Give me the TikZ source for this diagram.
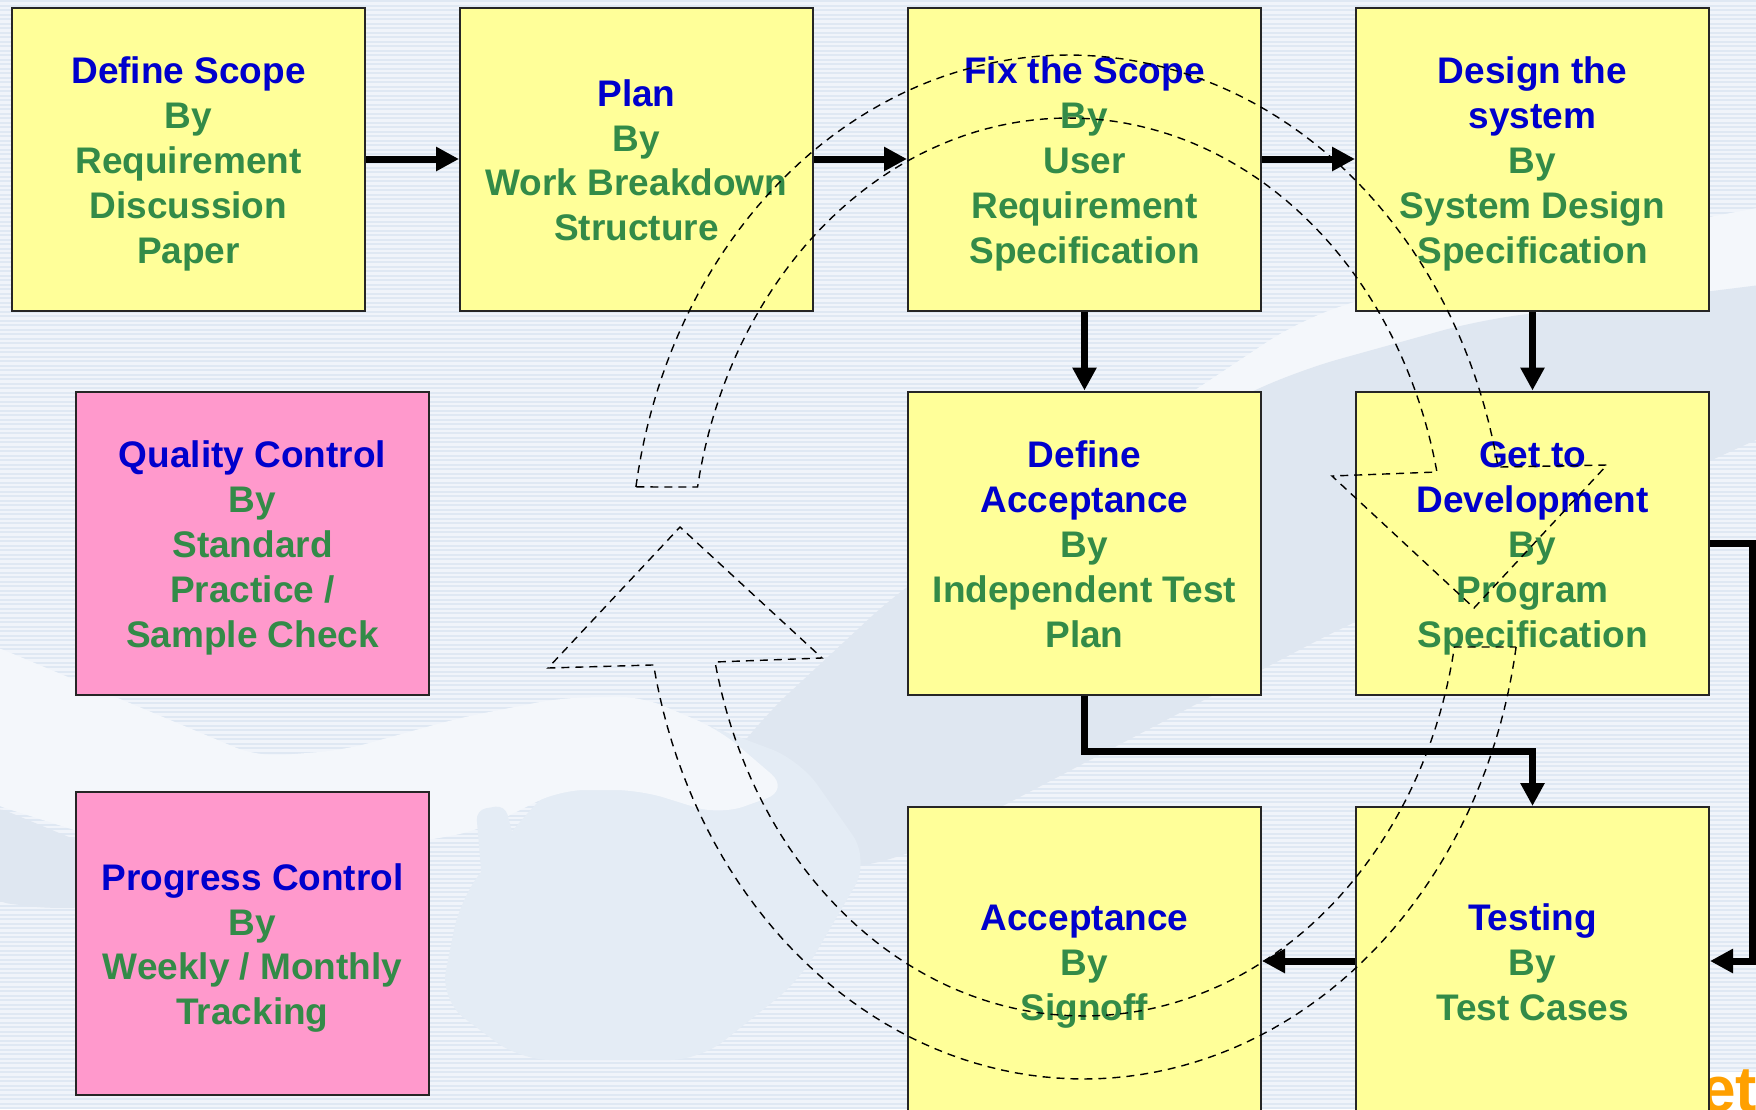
\documentclass[tikz,border=0pt]{standalone}
\usepackage{fontspec}
\setmainfont{Liberation Sans}
\usetikzlibrary{arrows.meta}
\definecolor{boxyellow}{HTML}{FFFF99}
\definecolor{boxpink}{HTML}{FF99CC}
\definecolor{titleblue}{HTML}{0000CC}
\definecolor{textgreen}{RGB}{51,139,72}
\definecolor{bgbase}{HTML}{F0F4FA}
\definecolor{bgstripe}{HTML}{DFE8F3}
\definecolor{wmdark}{HTML}{DFE7F1}
\definecolor{wmmid}{HTML}{E4ECF5}
\definecolor{wmlight}{HTML}{F4F7FB}
\definecolor{logoorange}{RGB}{255,160,0}
\newcommand\myTopStrut{\rule{0pt}{38pt}}
\newcommand\myBotStrut{\rule[-9pt]{0pt}{9pt}}
\begin{document}
\begin{tikzpicture}[x=1pt,y=-1pt,
  box/.style={draw=black!85, line width=2pt, fill=boxyellow, minimum width=353pt,
    minimum height=303pt, inner sep=0pt, align=center,
    font=\fontsize{37}{44.8}\selectfont\bfseries, text=textgreen},
  pinkbox/.style={box, fill=boxpink},
  tallbox/.style={box, minimum height=308pt},
  conn/.style={line width=7pt, -{Triangle[length=23pt,width=23pt]}, line join=miter},
  dasharrow/.style={black, line width=1.4pt, dash pattern=on 8pt off 6pt, line join=miter}
]
\useasboundingbox (0,0) rectangle (1756,1109);
\clip (0,0) rectangle (1756,1109);
% background stripes
\fill[bgbase] (0,0) rectangle (1756,1109);
\foreach \i in {0,...,246} {\fill[bgstripe] (0,{\i*4.5}) rectangle (1756,{\i*4.5+2});}
% watermark (handshake)
\fill[wmlight, rounded corners=40pt] (1800,200) -- (1480,260) -- (1300,320) -- (1150,420) -- (1300,380) -- (1500,330) -- (1800,300) -- cycle;
\fill[wmdark, rounded corners=40pt] (1800,280) -- (1480,320) -- (1300,370) -- (1100,460) -- (900,590) -- (760,720) -- (700,800) -- (760,880) -- (900,860) -- (1341,628) -- (1800,420) -- cycle;
\fill[wmmid, rounded corners=30pt] (640,700) -- (800,760) -- (870,860) -- (800,980) -- (700,1060) -- (520,1060) -- (440,1000) -- (460,900) -- (520,820) -- cycle;
\fill[wmlight, rounded corners=25pt] (-20,640) -- (258,757) -- (344,750) -- (459,718) -- (560,698) -- (640,696) -- (720,730) -- (790,790) -- (720,815) -- (640,790) -- (560,790) -- (480,830) -- (430,840) -- (200,870) -- (-20,800) -- cycle;
\fill[wmmid, rounded corners=10pt] (476,810) -- (505,805) -- (530,900) -- (520,975) -- (490,975) -- cycle;
\fill[wmmid, rounded corners=12pt] (534,825) -- (580,815) -- (626,900) -- (615,946) -- (580,946) -- cycle;
\fill[wmdark, rounded corners=30pt] (-20,800) -- (100,850) -- (150,900) -- (60,910) -- (-20,900) -- cycle;
% partial logo text at bottom right
\fill[white] (1709,1072) rectangle (1756,1109);
\node[anchor=base west, inner sep=0pt, text=logoorange, font=\fontsize{64}{64}\selectfont\bfseries] (logo) at (1700,1111) {et};
% boxes
\node[box] (b1) at (188.5,159) {\myTopStrut\textcolor{titleblue}{Define Scope}\\By\\Requirement\\Discussion\\Paper\myBotStrut};
\node[box] (b2) at (636.5,159) {\myTopStrut\textcolor{titleblue}{Plan}\\By\\Work Breakdown\\Structure\myBotStrut};
\node[box] (b3) at (1084.5,159) {\myTopStrut\textcolor{titleblue}{Fix the Scope}\\By\\User\\Requirement\\Specification\myBotStrut};
\node[box] (b4) at (1532.5,159) {\myTopStrut\textcolor{titleblue}{Design the}\\\textcolor{titleblue}{system}\\By\\System Design\\Specification\myBotStrut};
\node[pinkbox] (qc) at (252.5,543) {\myTopStrut\textcolor{titleblue}{Quality Control}\\By\\Standard\\Practice /\\Sample Check\myBotStrut};
\node[box] (da) at (1084.5,543) {\myTopStrut\textcolor{titleblue}{Define}\\\textcolor{titleblue}{Acceptance}\\By\\Independent Test\\Plan\myBotStrut};
\node[box] (gd) at (1532.5,543) {\myTopStrut\textcolor{titleblue}{Get to}\\\textcolor{titleblue}{Development}\\By\\Program\\Specification\myBotStrut};
\node[pinkbox] (pc) at (252.5,943) {\myTopStrut\textcolor{titleblue}{Progress Control}\\By\\Weekly / Monthly\\Tracking\myBotStrut};
\node[tallbox] (ac) at (1084.5,961) {\myTopStrut\textcolor{titleblue}{Acceptance}\\By\\Signoff\myBotStrut};
\node[tallbox] (te) at (1532.5,961) {\myTopStrut\textcolor{titleblue}{Testing}\\By\\Test Cases\myBotStrut};
% connectors
\coordinate (j1) at (1084.5,751);
\coordinate (j2) at (1752,543);
\draw[conn] (b1) -- (b2);
\draw[conn] (b2) -- (b3);
\draw[conn] (b3) -- (b4);
\draw[conn] (b3) -- (da);
\draw[conn] (b4) -- (gd);
\draw[conn] (da.south) -- (j1) -| (te.north);
\draw[conn] (gd.east) -- (j2) |- (te.east);
\draw[conn] (te) -- (ac);
% dashed circular arrows
\draw[dasharrow] plot[domain=189:348.74, samples=90, variable=\t] ({1068.5+438*cos(\t)},{567+512*sin(\t)})
  -- (1607,465) -- (1474,608) -- (1332,476) -- (1437,472)
  -- plot[domain=347.78:190.26, samples=90, variable=\t] ({1068.5+377*cos(\t)},{567+449*sin(\t)}) -- cycle;
\draw[dasharrow] plot[domain=8.99:168.97, samples=90, variable=\t] ({1083.5+438*cos(\t)},{567+512*sin(\t)})
  -- (548,668) -- (680,527) -- (822,658) -- (715,662)
  -- plot[domain=167.78:10.26, samples=90, variable=\t] ({1083.5+377*cos(\t)},{567+449*sin(\t)}) -- cycle;
\end{tikzpicture}
\end{document}
